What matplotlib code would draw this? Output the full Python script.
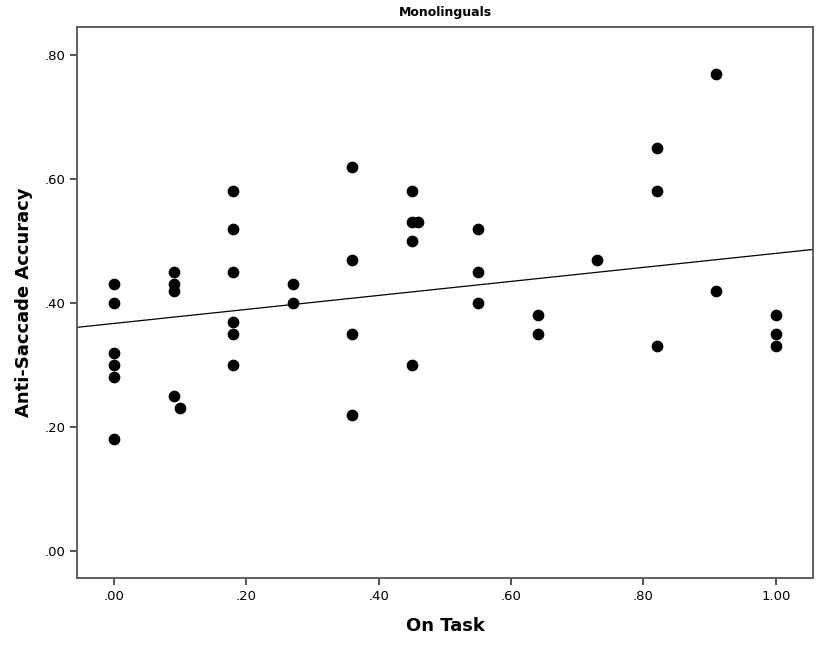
import numpy as np
import matplotlib.pyplot as plt

on_task = [0.00, 0.00, 0.00, 0.00, 0.00, 0.00,
           0.09, 0.09, 0.09, 0.09, 0.10,
           0.18, 0.18, 0.18, 0.18, 0.18, 0.18,
           0.27, 0.27,
           0.36, 0.36, 0.36, 0.36,
           0.45, 0.45, 0.45, 0.45, 0.46,
           0.55, 0.55, 0.55,
           0.64, 0.64,
           0.73,
           0.82, 0.82, 0.82,
           0.91, 0.91,
           1.00, 1.00, 1.00]
accuracy = [0.43, 0.40, 0.32, 0.30, 0.28, 0.18,
            0.45, 0.43, 0.42, 0.25, 0.23,
            0.58, 0.52, 0.45, 0.37, 0.35, 0.30,
            0.43, 0.40,
            0.62, 0.47, 0.35, 0.22,
            0.58, 0.53, 0.50, 0.30, 0.53,
            0.52, 0.45, 0.40,
            0.38, 0.35,
            0.47,
            0.65, 0.58, 0.33,
            0.77, 0.42,
            0.38, 0.35, 0.33]
# fit line
fit_intercept = 0.367
fit_slope = 0.113
xticks = [0.0, 0.2, 0.4, 0.6, 0.8, 1.0]
xtick_labels = [".00", ".20", ".40", ".60", ".80", "1.00"]
yticks = [0.0, 0.2, 0.4, 0.6, 0.8]
ytick_labels = [".00", ".20", ".40", ".60", ".80"]

fig = plt.figure(figsize=(8.17, 6.45), dpi=100)
ax = fig.add_axes([0.0942, 0.104, 0.9008, 0.854])

ax.scatter(on_task, accuracy, s=55, color="black", zorder=3)

xlim = (-0.056, 1.056)
xs = np.array(xlim)
ax.plot(xs, fit_intercept + fit_slope * xs, color="black", lw=0.9)

ax.set_xlim(*xlim)
ax.set_ylim(-0.0435, 0.845)
ax.set_xticks(xticks)
ax.set_xticklabels(xtick_labels)
ax.set_yticks(yticks)
ax.set_yticklabels(ytick_labels)
ax.tick_params(direction="out", length=5, width=1.2, labelsize=9.5, color="#333333")
for sp in ax.spines.values():
    sp.set_color("#555555")
    sp.set_linewidth(1.3)

ax.set_title("Monolinguals", fontsize=9, fontweight="bold", pad=8)
ax.set_xlabel("On Task", fontsize=13, fontweight="bold", labelpad=10)
ax.set_ylabel("Anti-Saccade Accuracy", fontsize=13, fontweight="bold", labelpad=8)

fig.savefig("out.png", dpi=100)
